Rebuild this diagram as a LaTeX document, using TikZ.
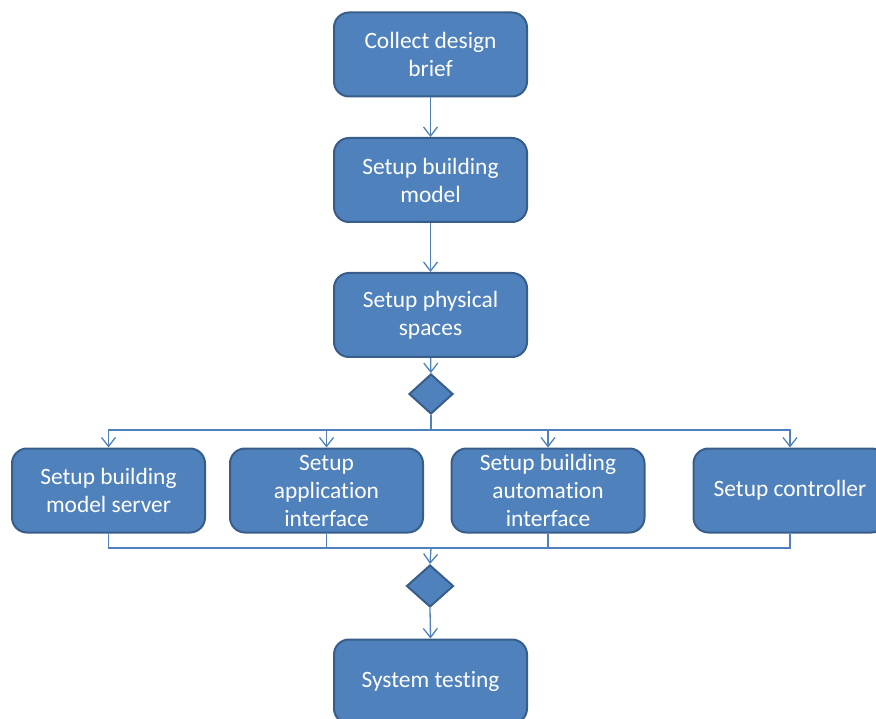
\documentclass[tikz,border=0pt]{standalone}
\usepackage{fontspec}
\setmainfont[RawFeature={-liga;-clig;-calt;-dlig}]{Carlito}
\usetikzlibrary{shapes.geometric,arrows.meta}
\definecolor{boxfill}{HTML}{4F81BD}
\definecolor{boxline}{HTML}{385D8A}
\definecolor{conn}{HTML}{4F81BD}
\begin{document}
\begin{tikzpicture}[x=1pt,y=-1pt,
  stepbox/.style={rectangle, rounded corners=15pt, fill=boxfill, draw=boxline, line width=2pt,
    minimum width=193pt, minimum height=84pt, inner sep=2pt, text=white, align=center,
    font=\fontsize{23.4}{28}\selectfont},
  decide/.style={diamond, fill=boxfill, draw=boxline, line width=2pt, inner sep=0pt},
  conn/.style={draw=conn, line width=1.3pt},
  arr/.style={conn, -{Straight Barb[length=9pt,width=14pt,line width=1.3pt]}}
]
\useasboundingbox (0,0) rectangle (876,719);
\node[stepbox] (n1) at (430.5,54.5) {Collect design\\brief};
\node[stepbox] (n2) at (430.5,180) {Setup building\\model};
\node[stepbox] (n3) at (430.5,315) {Setup physical\\spaces};
\node[decide, minimum width=44pt, minimum height=40pt] (d1) at (431,394) {};
\node[stepbox] (b1) at (108.5,490.5) {Setup building\\model server};
\node[stepbox] (b2) at (326.5,490.5) {Setup\\application\\interface};
\node[stepbox] (b3) at (548,490.5) {Setup building\\automa\kern0pt tion\\interface};
\node[stepbox] (b4) at (790,490.5) {Setup controller};
\node[decide, minimum width=47pt, minimum height=42pt] (d2) at (430,586) {};
\node[stepbox] (n4) at (430.5,681.5) {System tes\kern0pt ting};
\coordinate (j1) at (431,430);
\coordinate (j2) at (431,548);
\draw[arr] (n1) -- (n2);
\draw[arr] (n2) -- (n3);
\draw[arr] (n3) -- (d1);
\draw[conn] (d1.south) -- (j1);
\draw[arr] (j1) -| (b1);
\draw[arr] (j1) -| (b2);
\draw[arr] (j1) -| (b3);
\draw[arr] (j1) -| (b4);
\draw[conn] (b1.south) |- (j2);
\draw[conn] (b2.south) |- (j2);
\draw[conn] (b3.south) |- (j2);
\draw[conn] (b4.south) |- (j2);
\draw[arr] (j2) -- (d2.north);
\draw[arr] (d2.south) -- (n4.north);
\end{tikzpicture}
\end{document}
